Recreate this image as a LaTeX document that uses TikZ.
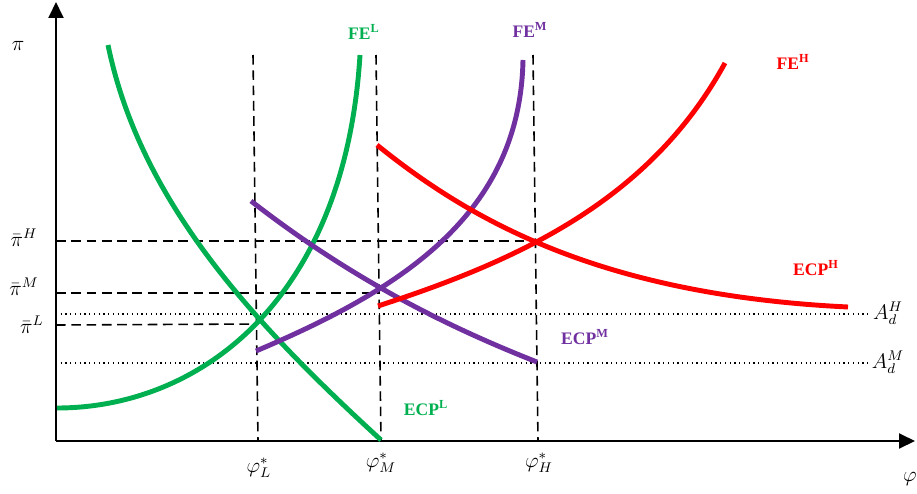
\documentclass[tikz,border=0pt]{standalone}
\usepackage{fontspec}
\setmainfont{Liberation Serif}
\usepackage{xcolor}
\usepackage{tikz}
\usetikzlibrary{arrows.meta,positioning,calc}
\definecolor{lowgreen}{RGB}{0,176,80}
\definecolor{midpurple}{RGB}{112,48,160}
\definecolor{highred}{RGB}{255,0,0}

\begin{document}
\begin{tikzpicture}[x=0.02cm,y=-0.02cm,
  axis/.style={line width=1.1pt, -{Triangle[length=3.2mm,width=3mm]}},
  guide/.style={line width=0.9pt, dash pattern=on 5.5pt off 3.2pt},
  level/.style={dotted, line width=0.7pt},
  curve/.style={line width=2.8pt},
  tag/.style={font=\bfseries, inner sep=1pt},
  ticklab/.style={font=\large, inner sep=1pt}
]
\useasboundingbox (0,0) rectangle (917,494);
% axes
\coordinate (O) at (56,441);
\coordinate (ytop) at (56,2);
\coordinate (xend) at (915,441);
\draw[axis] (O)--(ytop);
\draw[axis] (O)--(xend);
\node[ticklab] (pi) at (18,46) {$\pi$};
\node[ticklab] (phi) at (910,479) {$\varphi$};

% equilibrium points
\coordinate (EL) at (257,324);
\coordinate (EM) at (379,293);
\coordinate (EH) at (536,241);

% vertical guides
\draw[guide] (253,55)--(258,441);
\draw[guide] (376,55)--(381,441);
\draw[guide] (533,55)--(538,441);
% horizontal guides
\draw[guide] (56,241)--(EH);
\draw[guide] (56,293)--(EM);
\draw[guide] (56,325)--(EL);
% A_d levels
\draw[level] (56,314)--(870,314);
\draw[level] (56,363)--(870,363);

% low
\draw[curve, lowgreen] (57,408) .. controls (200,408) and (345,300) .. (360,55);
\draw[curve, lowgreen] (108,45) .. controls (140,200) and (250,320) .. (381,440);
% medium
\draw[curve, midpurple] (256,351) .. controls (400,290) and (520,215) .. (523,60);
\draw[curve, midpurple] (251,201) .. controls (340,270) and (430,320) .. (537,362);
% high
\draw[curve, highred] (378,306) .. controls (520,260) and (650,200) .. (725,63);
\draw[curve, highred] (377,145) .. controls (470,220) and (600,295) .. (848,307);

% curve labels
\node[tag, lowgreen] (feL) at (364,32) {FE\textsuperscript{L}};
\node[tag, midpurple] (feM) at (530,30) {FE\textsuperscript{M}};
\node[tag, highred] (feH) at (793,62) {FE\textsuperscript{H}};
\node[tag, highred] (ecpH) at (816,268) {ECP\textsuperscript{H}};
\node[tag, midpurple] (ecpM) at (585,337) {ECP\textsuperscript{M}};
\node[tag, lowgreen] (ecpL) at (426,408) {ECP\textsuperscript{L}};

% tick labels
\node[ticklab] (piH) at (24,238) {$\bar\pi^{H}$};
\node[ticklab] (piM) at (24,287) {$\bar\pi^{M}$};
\node[ticklab] (piL) at (32,325) {$\bar\pi^{L}$};
\node[ticklab] (phiL) at (259,468) {$\varphi_L^*$};
\node[ticklab] (phiM) at (381,463) {$\varphi_M^*$};
\node[ticklab] (phiH) at (539,463) {$\varphi_H^*$};
\node[ticklab] (AdH) at (888,313) {$A_d^H$};
\node[ticklab] (AdM) at (888,362) {$A_d^M$};
\end{tikzpicture}
\end{document}
